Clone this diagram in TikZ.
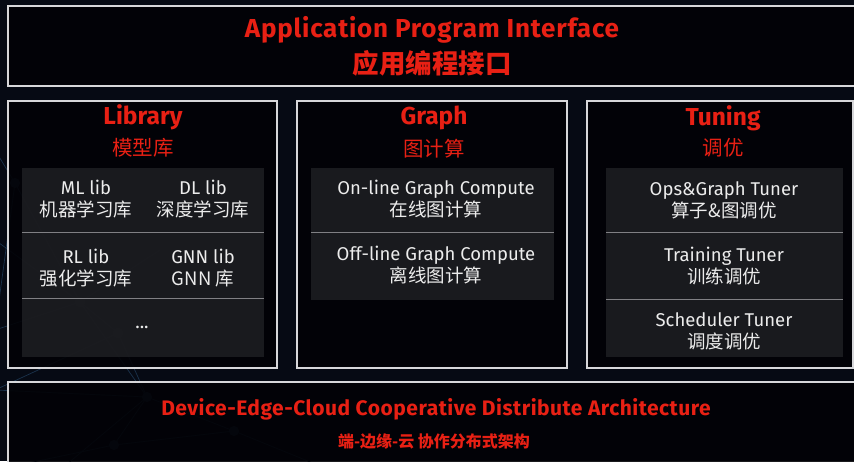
\documentclass[tikz,border=0pt]{standalone}
\usepackage{fontspec}
\setmainfont{Fira Sans}
\newfontfamily\cjk{Noto Sans CJK SC}
\newfontfamily\titlefont{Fira Sans}
\usetikzlibrary{positioning}
\definecolor{bgnavy}{RGB}{6,10,20}
\definecolor{boxblack}{RGB}{2,2,6}
\definecolor{panelgray}{RGB}{28,29,33}
\definecolor{rulegray}{RGB}{128,128,132}
\definecolor{framegray}{RGB}{215,215,218}
\definecolor{titlered}{RGB}{232,32,20}
\definecolor{textwhite}{RGB}{236,236,236}
\definecolor{netblue}{RGB}{26,50,76}

\tikzset{
  frame/.style={draw=framegray, line width=1.2pt, fill=boxblack, fill opacity=0.9},
  panel/.style={fill=panelgray, fill opacity=0.92},
  divider/.style={rulegray, line width=0.8pt},
  bigtitle/.style={titlered, font=\titlefont\bfseries\fontsize{26}{30}\selectfont\addfontfeature{LetterSpace=3}},
  coltitle/.style={titlered, font=\bfseries\fontsize{24.5}{28}\selectfont},
  colsub/.style={titlered, font=\cjk\fontsize{20.5}{24}\selectfont},
  entry/.style={textwhite, align=center, font=\fontsize{18.5}{22}\selectfont},
  netline/.style={netblue, line width=0.7pt},
  netdot/.style={netblue, fill=netblue}
}

\begin{document}
\begin{tikzpicture}[x=1pt,y=-1pt]
  \useasboundingbox (0,0) rectangle (854,461);
  \fill[bgnavy] (0,0) rectangle (854,461);

  % faint network in the background
  \coordinate (n1) at (15,183);
  \coordinate (n2) at (80,302);
  \coordinate (n3) at (118,333);
  \coordinate (n4) at (147,397);
  \coordinate (n5) at (234,431);
  \coordinate (n6) at (114,445);
  \draw[netline] (-5,150) -- (n1) -- (n2) -- (n3) -- (n4) -- (n5) -- (n6) -- (-5,470);
  \draw[netline] (-5,240) -- (n2) -- (160,250);
  \draw[netline] (n1) -- (-5,330) -- (n2);
  \draw[netline] (n3) -- (-5,390) -- (n4) -- (n6);
  \draw[netline] (n4) -- (60,470);
  \draw[netline] (n5) -- (330,470);
  \draw[netline] (n2) -- (n4);
  \foreach \p in {n1,n2,n3,n4,n5,n6}
    \fill[netdot] (\p) circle (5pt);

  % top: API
  \draw[frame] (8,6) rectangle (862,86);
  \node[bigtitle] (api) at (432,30) {Application Program Interface};
  \node[titlered, font=\cjk\bfseries\fontsize{26.5}{30}\selectfont] (apicn) at (432,63) {应用编程接口};

  % three columns
  \draw[frame] (8,101) rectangle (277,368);
  \draw[frame] (297,101) rectangle (567,368);
  \draw[frame] (587,101) rectangle (853,368);

  \node[coltitle] (lib) at (143,117) {Library};
  \node[colsub] (libcn) at (143,148) {模型库};
  \node[coltitle] (graph) at (434,118) {Graph};
  \node[colsub] (graphcn) at (434,149) {图计算};
  \node[coltitle] (tune) at (723,118) {Tuning};
  \node[colsub] (tunecn) at (723,148) {调优};

  % library panel
  \fill[panel] (22,168) rectangle (264,357);
  \draw[divider] (22,232) -- (264,232);
  \draw[divider] (22,298) -- (264,298);
  \node[entry] (ml) at (86,199) {ML lib\\{\cjk 机器学习库}};
  \node[entry] (dl) at (203,199) {DL lib\\{\cjk 深度学习库}};
  \node[entry] (rl) at (86,268) {RL lib\\{\cjk 强化学习库}};
  \node[entry] (gnn) at (203,268) {GNN lib\\{\cjk GNN 库}};
  \node[entry] (more) at (142,327) {...};

  % graph panel
  \fill[panel] (311,168) rectangle (554,300);
  \draw[divider] (311,232) -- (554,232);
  \node[entry] (online) at (436,199) {On-line Graph Compute\\{\cjk 在线图计算}};
  \node[entry] (offline) at (436,265) {Off-line Graph Compute\\{\cjk 离线图计算}};

  % tuning panel
  \fill[panel] (606,168) rectangle (843,357);
  \draw[divider] (606,232) -- (843,232);
  \draw[divider] (606,299) -- (843,299);
  \node[entry] (ops) at (724,200) {Ops\&Graph Tuner\\{\cjk 算子\&图调优}};
  \node[entry] (train) at (724,266) {Training Tuner\\{\cjk 训练调优}};
  \node[entry] (sched) at (724,331) {Scheduler Tuner\\{\cjk 调度调优}};

  % bottom: device-edge-cloud
  \draw[frame] (8,382) rectangle (862,470);
  \node[titlered, font=\titlefont\bfseries\fontsize{21}{25}\selectfont\addfontfeature{LetterSpace=2.4}] (dec) at (436,409) {Device-Edge-Cloud Cooperative Distribute Architecture};
  \node[titlered, font=\cjk\bfseries\fontsize{16}{20}\selectfont] (deccn) at (434,441) {端-边缘-云 协作分布式架构};
\end{tikzpicture}
\end{document}
